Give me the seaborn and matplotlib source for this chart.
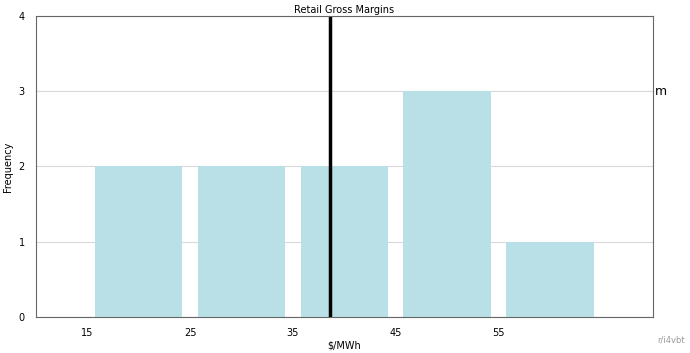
import numpy as np
import pandas as pd
import matplotlib
matplotlib.use("Agg")
import matplotlib.pyplot as plt
import seaborn as sns

# bin centres ($/MWh) and counts
bin_centers = [20, 30, 40, 50, 60]
counts = [2, 2, 2, 3, 1]
marker_value = 38.6
x_ticks = [15, 25, 35, 45, 55]

sns.set_style("white")
plt.rcParams['font.family'] = ['DejaVu Sans']
plt.rcParams['text.color'] = 'black'
plt.rcParams['axes.labelcolor'] = 'black'
plt.rcParams['xtick.color'] = 'black'
plt.rcParams['ytick.color'] = 'black'

df = pd.DataFrame({"bin": bin_centers, "count": counts})

fig, ax = plt.subplots(figsize=(6.9, 3.53), dpi=100)
fig.subplots_adjust(left=0.052, right=0.946, top=0.955, bottom=0.102)

ax.grid(axis="y", color="#d9d9d9", linewidth=0.8)
ax.set_axisbelow(True)
sns.barplot(data=df, x="bin", y="count", native_scale=True, width=0.85,
            color="#b9e0e6", saturation=1, edgecolor="none", ax=ax)
ax.axvline(marker_value, color="black", linewidth=2.5)

ax.set_xlim(10, 70)
ax.set_ylim(0, 4)
ax.set_xticks(x_ticks)
ax.set_yticks([0, 1, 2, 3, 4])
ax.tick_params(axis="both", length=0, labelsize=7, pad=8)
ax.set_xlabel("$/MWh", fontsize=7, labelpad=2)
ax.set_ylabel("Frequency", fontsize=7, labelpad=4)
ax.set_title("Retail Gross Margins", fontsize=7, pad=2)
for s in ax.spines.values():
    s.set_color("#666666")
    s.set_linewidth(0.8)

ax.text(1.004, 0.75, "m", transform=ax.transAxes, fontsize=9, va="center", ha="left")
fig.text(0.993, 0.025, "r/i4vbt", fontsize=6, color="#999999", ha="right", va="bottom")

fig.savefig("out.png", dpi=100)
